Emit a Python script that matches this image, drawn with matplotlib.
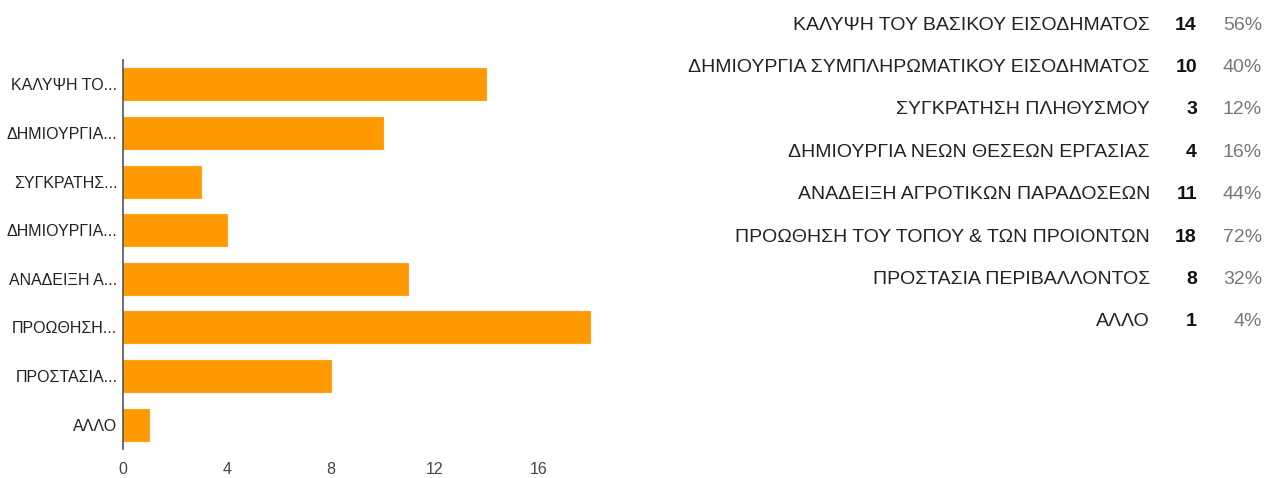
import matplotlib.pyplot as plt
from matplotlib import font_manager

# Survey answers (25 respondents, multiple choice)
categories = [
    'ΚΑΛΥΨΗ ΤΟΥ ΒΑΣΙΚΟΥ ΕΙΣΟΔΗΜΑΤΟΣ',
    'ΔΗΜΙΟΥΡΓΙΑ ΣΥΜΠΛΗΡΩΜΑΤΙΚΟΥ ΕΙΣΟΔΗΜΑΤΟΣ',
    'ΣΥΓΚΡΑΤΗΣΗ ΠΛΗΘΥΣΜΟΥ',
    'ΔΗΜΙΟΥΡΓΙΑ ΝΕΩΝ ΘΕΣΕΩΝ ΕΡΓΑΣΙΑΣ',
    'ΑΝΑΔΕΙΞΗ ΑΓΡΟΤΙΚΩΝ ΠΑΡΑΔΟΣΕΩΝ',
    'ΠΡΟΩΘΗΣΗ ΤΟΥ ΤΟΠΟΥ & ΤΩΝ ΠΡΟΙΟΝΤΩΝ',
    'ΠΡΟΣΤΑΣΙΑ ΠΕΡΙΒΑΛΛΟΝΤΟΣ',
    'ΑΛΛΟ',
]
short_labels = [
    'ΚΑΛΥΨΗ ΤΟ...',
    'ΔΗΜΙΟΥΡΓΙΑ...',
    'ΣΥΓΚΡΑΤΗΣ...',
    'ΔΗΜΙΟΥΡΓΙΑ...',
    'ΑΝΑΔΕΙΞΗ Α...',
    'ΠΡΟΩΘΗΣΗ...',
    'ΠΡΟΣΤΑΣΙΑ...',
    'ΑΛΛΟ',
]
counts = [14, 10, 3, 4, 11, 18, 8, 1]
respondents = 25
x_ticks = [0, 4, 8, 12, 16]

names = {f.name for f in font_manager.fontManager.ttflist}
family = 'Liberation Sans Narrow' if 'Liberation Sans Narrow' in names else 'Liberation Sans'
plt.rcParams['font.family'] = [family, 'DejaVu Sans']

W, H = 1264, 478
fig = plt.figure(figsize=(W / 100, H / 100), dpi=100)
ax = fig.add_axes([123 / W, (H - 449) / H, 519 / W, 389 / H])

ypos = list(range(len(counts)))
ax.barh(ypos, counts, height=0.66, color='#ff9900', edgecolor='#ffa31a', linewidth=0.8)
ax.set_ylim(len(counts) - 0.5, -0.5)
ax.set_xlim(0, 20)

ax.set_yticks(ypos)
ax.set_yticklabels(short_labels, fontsize=11.5, color='#222222')
ax.set_xticks(x_ticks)
ax.set_xticklabels([str(t) for t in x_ticks], fontsize=11.5, color='#444444')
ax.tick_params(axis='both', length=0)
ax.tick_params(axis='y', pad=4)
ax.tick_params(axis='x', pad=9)

for side in ['top', 'right', 'bottom']:
    ax.spines[side].set_visible(False)
ax.spines['left'].set_color('#555555')
ax.spines['left'].set_linewidth(1.2)

# Summary table on the right: answer, count, percentage
row_y0, row_step = 25, 42.4
for i, (name, n) in enumerate(zip(categories, counts)):
    y = 1 - (row_y0 + i * row_step) / H
    fig.text(1150 / W, y, name, ha='right', va='center', fontsize=14, color='#222222')
    fig.text(1197 / W, y, str(n), ha='right', va='center', fontsize=14,
             fontweight='bold', color='#111111')
    pct = round(100 * n / respondents)
    fig.text(1262 / W, y, f'{pct}%', ha='right', va='center', fontsize=14, color='#777777')

fig.savefig('out.png', dpi=100, facecolor='white')
